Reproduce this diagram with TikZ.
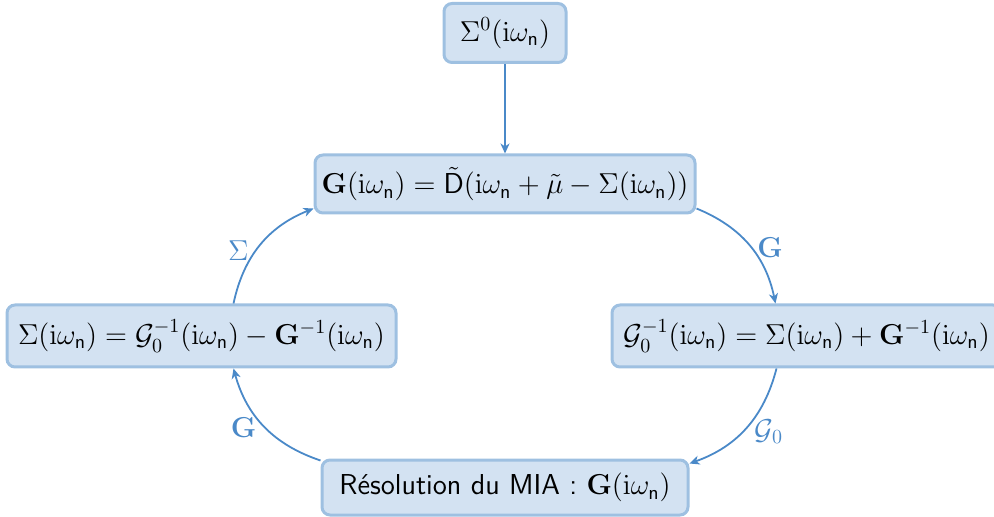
\documentclass[tikz,border=0pt]{standalone}
\usepackage{amsmath,amssymb}
\usetikzlibrary{arrows.meta}
\definecolor{boxfill}{HTML}{D3E2F2}
\definecolor{boxdraw}{HTML}{9EC0E1}
\definecolor{arrcol}{HTML}{4A89C8}
\newcommand{\iwn}{(\mathrm{i}\omega_{\mathsf{n}})}
\begin{document}
\begin{tikzpicture}[x=0.5pt,y=-0.5pt,
  eqbox/.style={draw=boxdraw, fill=boxfill, line width=1.5pt, rounded corners=4pt,
    inner sep=0pt, font=\fontsize{14.4}{17}\selectfont},
  arr/.style={draw=arrcol, line width=0.9pt, -{Stealth[length=5pt,width=4.5pt,inset=1.5pt]}},
  lab/.style={text=arrcol, font=\fontsize{14.4}{17}\selectfont, inner sep=1pt}]
\useasboundingbox (0,0) rectangle (994,517);
\node[eqbox, minimum width=61pt, minimum height=29.5pt] (T) at (505,33) {$\Sigma^0\iwn$};
\node[eqbox, minimum width=190pt, minimum height=29pt] (G) at (505,184)
  {$\mathbf{G}\iwn=\tilde{\mathsf{D}}(\mathrm{i}\omega_{\mathsf{n}}+\tilde{\mu}-\Sigma\iwn)$};
\node[eqbox, minimum width=194.5pt, minimum height=31pt] (L) at (201.5,336)
  {$\Sigma\iwn=\mathcal{G}_0^{-1}\iwn-\mathbf{G}^{-1}\iwn$};
\node[eqbox, minimum width=194.5pt, minimum height=31pt] (R) at (806.5,336)
  {$\mathcal{G}_0^{-1}\iwn=\Sigma\iwn+\mathbf{G}^{-1}\iwn$};
\node[eqbox, minimum width=183pt, minimum height=27.5pt] (B) at (505,487.5)
  {\textsf{Résolution du MIA :} $\mathbf{G}\iwn$};
\draw[arr] (T.south) -- (G.north);
\draw[arr] ([yshift=3pt]G.south east) to[bend left=28]
  node[lab, pos=0.42, anchor=south west, xshift=6pt, yshift=-11pt] {$\mathbf{G}$} ([xshift=-15.5pt]R.north);
\draw[arr] ([xshift=-15pt]R.south) to[bend left=28]
  node[lab, pos=0.5, anchor=north west, xshift=3pt, yshift=5.5pt] {$\mathcal{G}_0$} ([yshift=-2.5pt]B.north east);
\draw[arr] ([yshift=-1pt]B.north west) to[bend left=28]
  node[lab, pos=0.5, anchor=north east, xshift=-2.5pt, yshift=6pt] {$\mathbf{G}$} ([xshift=16pt]L.south);
\draw[arr] ([xshift=16pt]L.north) to[bend left=28]
  node[lab, pos=0.5, anchor=south east, xshift=-4.5pt, yshift=-9pt] {$\Sigma$} ([yshift=3pt]G.south west);
\end{tikzpicture}
\end{document}
